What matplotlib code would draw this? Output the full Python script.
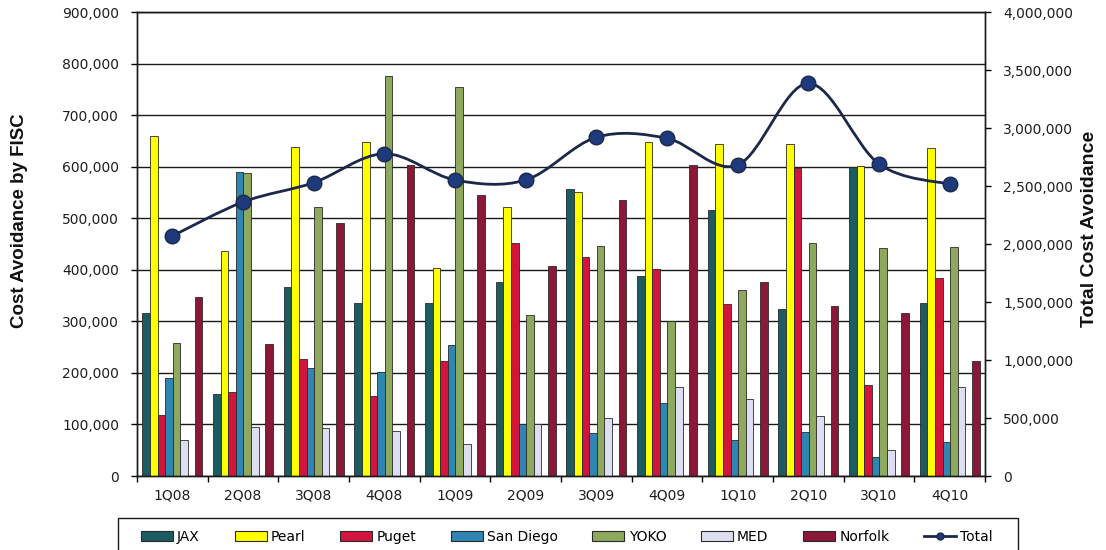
import numpy as np
import matplotlib
matplotlib.use('Agg')
import matplotlib.pyplot as plt
from matplotlib.path import Path
from matplotlib.patches import PathPatch, Rectangle, Patch
from matplotlib.lines import Line2D
from matplotlib.ticker import FuncFormatter, MultipleLocator

# quarters on the x axis
quarters = ['1Q08', '2Q08', '3Q08', '4Q08', '1Q09', '2Q09',
            '3Q09', '4Q09', '1Q10', '2Q10', '3Q10', '4Q10']

# cost avoidance per FISC (left axis)
jax = [317000, 159000, 366000, 335000, 336000, 377000,
       556000, 388000, 516000, 323000, 600000, 336000]
pearl = [659000, 437000, 638000, 648000, 403000, 521000,
         550000, 648000, 643000, 643000, 601000, 637000]
puget = [118000, 162000, 227000, 156000, 223000, 452000,
         425000, 401000, 333000, 597000, 176000, 385000]
san_diego = [191000, 590000, 210000, 202000, 255000, 101000,
             83000, 142000, 70000, 85000, 37000, 65000]
yoko = [258000, 587000, 521000, 776000, 755000, 312000,
        446000, 301000, 361000, 452000, 442000, 445000]
med = [70000, 96000, 94000, 87000, 63000, 100000,
       112000, 173000, 149000, 116000, 50000, 173000]
norfolk = [348000, 257000, 490000, 603000, 546000, 408000,
           535000, 603000, 377000, 330000, 316000, 223000]

# total cost avoidance (right axis)
total = [2069000, 2362000, 2529000, 2778000, 2552000, 2552000,
         2920000, 2911000, 2681000, 3385000, 2690000, 2515000]

series_names = ['JAX', 'Pearl', 'Puget', 'San Diego', 'YOKO', 'MED', 'Norfolk']
series_values = [jax, pearl, puget, san_diego, yoko, med, norfolk]
series_colors = ['#1c5b62', '#ffff00', '#d3143d', '#2f86b3',
                 '#8ea95e', '#dedef2', '#8a1838']

W, H = 1106, 550


def smooth_path(x, y):
    '''
    excel style smoothed line: bezier segments with
    catmull-rom like control points
    '''
    n = len(x)
    verts = [(x[0], y[0])]
    codes = [Path.MOVETO]
    for i in range(n - 1):
        i_prev = max(i - 1, 0)
        i_next = min(i + 2, n - 1)
        c1 = (x[i] + (x[i + 1] - x[i_prev]) / 6.0,
              y[i] + (y[i + 1] - y[i_prev]) / 6.0)
        c2 = (x[i + 1] - (x[i_next] - x[i]) / 6.0,
              y[i + 1] - (y[i_next] - y[i]) / 6.0)
        verts += [c1, c2, (x[i + 1], y[i + 1])]
        codes += [Path.CURVE4] * 3
    return Path(verts, codes)


def comma(v, pos):
    return '{:,.0f}'.format(v)


def style_ticklabels(labels):
    for lab in labels:
        lab.set_fontfamily('DejaVu Sans')
        lab.set_fontsize(10)
        lab.set_color('#1e1e1e')


fig = plt.figure(figsize=(W / 100, H / 100), dpi=100)
ax = fig.add_axes([137 / W, 1 - 476 / H, 848 / W, 464 / H])

x = np.arange(len(quarters))
bar_w = 0.108
group_left = -0.425
# six bars side by side, then a small gap before Norfolk
offsets = [group_left + i * bar_w for i in range(6)] + [0.425 - bar_w]

for name, vals, color, off in zip(series_names, series_values, series_colors, offsets):
    ax.bar(x + off, vals, width=bar_w, align='edge', color=color,
           edgecolor='#2a2a2a', linewidth=0.6, label=name, zorder=2)

ax.set_xlim(-0.5, 11.5)
ax.set_ylim(0, 900000)
ax.yaxis.set_major_locator(MultipleLocator(100000))
ax.yaxis.set_major_formatter(FuncFormatter(comma))
ax.set_axisbelow(True)
ax.yaxis.grid(True, color='#1a1a1a', linewidth=1.0)

ax.set_xticks(x)
ax.set_xticklabels(quarters)
ax.set_xticks(np.arange(-0.5, 12.0, 1.0), minor=True)
ax.tick_params(axis='x', which='major', length=0, pad=9)
ax.tick_params(axis='x', which='minor', length=4, direction='out', width=1)
ax.tick_params(axis='y', length=4, direction='out', width=1, pad=9)
style_ticklabels(ax.get_xticklabels() + ax.get_yticklabels())
for sp in ax.spines.values():
    sp.set_color('#1a1a1a')
    sp.set_linewidth(1.0)

# right axis with the total
ax2 = ax.twinx()
ax2.set_ylim(0, 4000000)
ax2.yaxis.set_major_locator(MultipleLocator(500000))
ax2.yaxis.set_major_formatter(FuncFormatter(comma))
ax2.tick_params(axis='y', length=4, direction='out', width=1, pad=9)
style_ticklabels(ax2.get_yticklabels())
for sp in ax2.spines.values():
    sp.set_color('#1a1a1a')
    sp.set_linewidth(1.0)

line_color = '#1c2849'
marker_color = '#1f3a7c'
ax2.add_patch(PathPatch(smooth_path(x.astype(float), np.array(total, dtype=float)),
                        fill=False, edgecolor=line_color, linewidth=2.0, zorder=3))
ax2.plot(x, total, linestyle='none', marker='o', markersize=10.5,
         markerfacecolor=marker_color, markeredgecolor=line_color, zorder=4)

# axis titles
fig.text(20 / W, 1 - 221 / H, 'Cost Avoidance by FISC', rotation=90,
         ha='center', va='center', fontsize=13.5, fontweight='bold',
         family='Liberation Sans', color='#111111')
fig.text(1090 / W, 1 - 229 / H, 'Total Cost Avoidance', rotation=90,
         ha='center', va='center', fontsize=14, fontweight='bold',
         family='Liberation Sans', color='#111111')

# legend, with an outer box like the excel one
handles = [Patch(facecolor=c, edgecolor='#2a2a2a', linewidth=0.8)
           for c in series_colors]
handles.append(Line2D([0], [0], color=line_color, linewidth=2.0,
                      marker='o', markersize=5, markerfacecolor=marker_color))
labels = series_names + ['Total']
fig.legend(handles, labels, loc='center', bbox_to_anchor=(567 / W, 1 - 537 / H),
           ncol=8, frameon=False, handlelength=2.3, handleheight=0.7,
           handletextpad=0.3, columnspacing=2.5,
           prop={'family': 'DejaVu Sans', 'size': 10})
box_top = 518
fig.patches.append(Rectangle((118 / W, -10 / H), 900 / W, (H - box_top + 10) / H,
                             transform=fig.transFigure, fill=False,
                             edgecolor='#1a1a1a', linewidth=1.0))

fig.savefig('out.png', dpi=100)
